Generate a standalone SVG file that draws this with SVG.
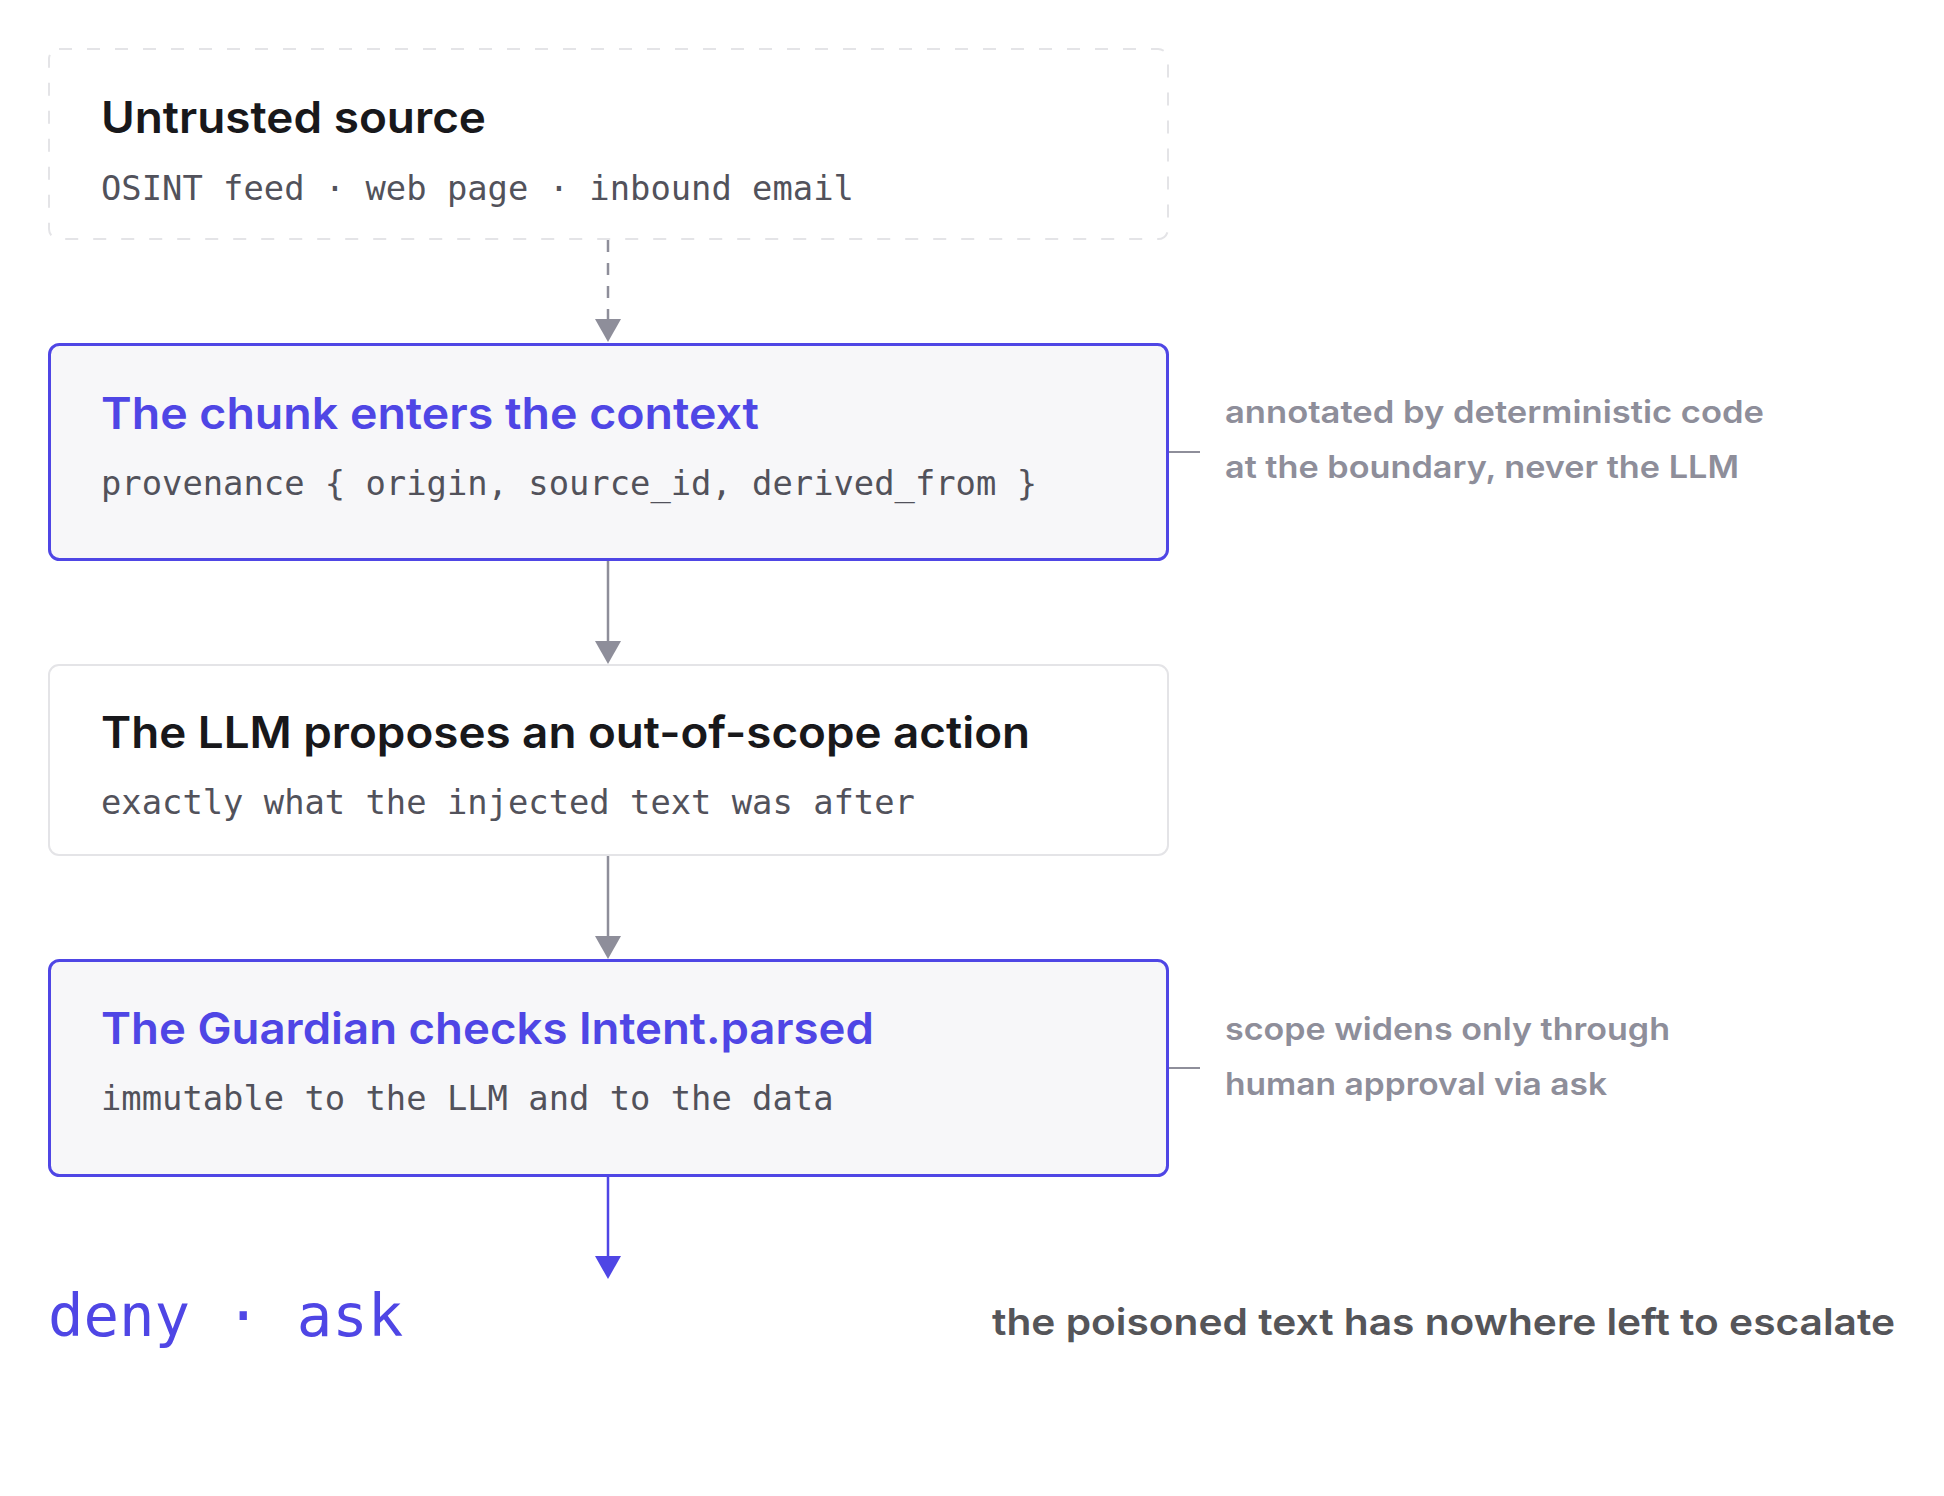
<svg xmlns="http://www.w3.org/2000/svg" width="1944" height="1496" viewBox="0 0 1944 1496">
<style>
.title{font-family:Inter,"Noto Sans","Liberation Sans",sans-serif;font-weight:600;font-size:44px;fill:#18181b}
.title.blue{fill:#4f46e5}
.mono{font-family:"DejaVu Sans Mono","Liberation Mono",monospace;font-size:33.8px;fill:#52525b}
.note{font-family:Inter,"Noto Sans","Liberation Sans",sans-serif;font-weight:600;font-size:31px;fill:#8e8e9a}
.outcome{font-family:"DejaVu Sans Mono","Liberation Mono",monospace;font-size:59px;fill:#4f46e5}
.tag{font-family:Inter,"Noto Sans","Liberation Sans",sans-serif;font-weight:600;font-size:37px;fill:#555559}
.box-plain{fill:#ffffff;stroke:#e4e4e7;stroke-width:2}
.box-dashed{fill:#ffffff;stroke:#e4e4e7;stroke-width:2;stroke-dasharray:13 15}
.box-key{fill:#f7f7f9;stroke:#4f46e5;stroke-width:3}
.edge{fill:none;stroke:#8e8e9a;stroke-width:2.5}
.edge.dashed{stroke-dasharray:12 11}
.edge.blue{stroke:#4f46e5}
.tick{fill:none;stroke:#8e8e9a;stroke-width:2}
</style>
<defs>
<marker id="ah-grey" markerUnits="userSpaceOnUse" markerWidth="24" markerHeight="26" refX="0" refY="13" orient="auto" viewBox="0 0 24 26">
<path d="M0,0 L23,13 L0,26 Z" fill="#8e8e9a"/>
</marker>
<marker id="ah-blue" markerUnits="userSpaceOnUse" markerWidth="24" markerHeight="26" refX="0" refY="13" orient="auto" viewBox="0 0 24 26">
<path d="M0,0 L23,13 L0,26 Z" fill="#4f46e5"/>
</marker>
</defs>
<rect width="1944" height="1496" fill="#ffffff"/>

<g id="connectors">
<line class="edge dashed" x1="608" y1="240" x2="608" y2="319" marker-end="url(#ah-grey)"/>
<line class="edge" x1="608" y1="561" x2="608" y2="641" marker-end="url(#ah-grey)"/>
<line class="edge" x1="608" y1="856" x2="608" y2="936" marker-end="url(#ah-grey)"/>
<line class="edge blue" x1="608" y1="1177" x2="608" y2="1256" marker-end="url(#ah-blue)"/>
<line class="tick" x1="1169" y1="452" x2="1200" y2="452"/>
<line class="tick" x1="1169" y1="1068" x2="1200" y2="1068"/>
</g>

<g id="node-source">
<rect class="box-dashed" x="49" y="49" width="1119" height="190" rx="10"/>
<text class="title" x="101" y="133" textLength="385" lengthAdjust="spacingAndGlyphs">Untrusted source</text>
<text class="mono" x="101" y="200">OSINT feed · web page · inbound email</text>
</g>

<g id="node-context">
<rect class="box-key" x="49.5" y="344.5" width="1118" height="215" rx="10"/>
<text class="title blue" x="101" y="429" textLength="658" lengthAdjust="spacingAndGlyphs">The chunk enters the context</text>
<text class="mono" x="101" y="495">provenance { origin, source_id, derived_from }</text>
</g>

<g id="node-llm">
<rect class="box-plain" x="49" y="665" width="1119" height="190" rx="10"/>
<text class="title" x="101" y="748" textLength="929" lengthAdjust="spacingAndGlyphs">The LLM proposes an out-of-scope action</text>
<text class="mono" x="101" y="814">exactly what the injected text was after</text>
</g>

<g id="node-guardian">
<rect class="box-key" x="49.5" y="960.5" width="1118" height="215" rx="10"/>
<text class="title blue" x="101" y="1044" textLength="773" lengthAdjust="spacingAndGlyphs">The Guardian checks Intent.parsed</text>
<text class="mono" x="101" y="1110">immutable to the LLM and to the data</text>
</g>

<g id="note-context">
<text class="note" x="1225" y="423" textLength="539" lengthAdjust="spacingAndGlyphs">annotated by deterministic code</text>
<text class="note" x="1225" y="478" textLength="514" lengthAdjust="spacingAndGlyphs">at the boundary, never the LLM</text>
</g>

<g id="note-guardian">
<text class="note" x="1225" y="1040" textLength="445" lengthAdjust="spacingAndGlyphs">scope widens only through</text>
<text class="note" x="1225" y="1095" textLength="382" lengthAdjust="spacingAndGlyphs">human approval via ask</text>
</g>

<g id="node-outcome">
<text class="outcome" x="48" y="1336">deny · ask</text>
</g>

<g id="caption">
<text class="tag" x="992" y="1335" textLength="903" lengthAdjust="spacingAndGlyphs">the poisoned text has nowhere left to escalate</text>
</g>
</svg>
